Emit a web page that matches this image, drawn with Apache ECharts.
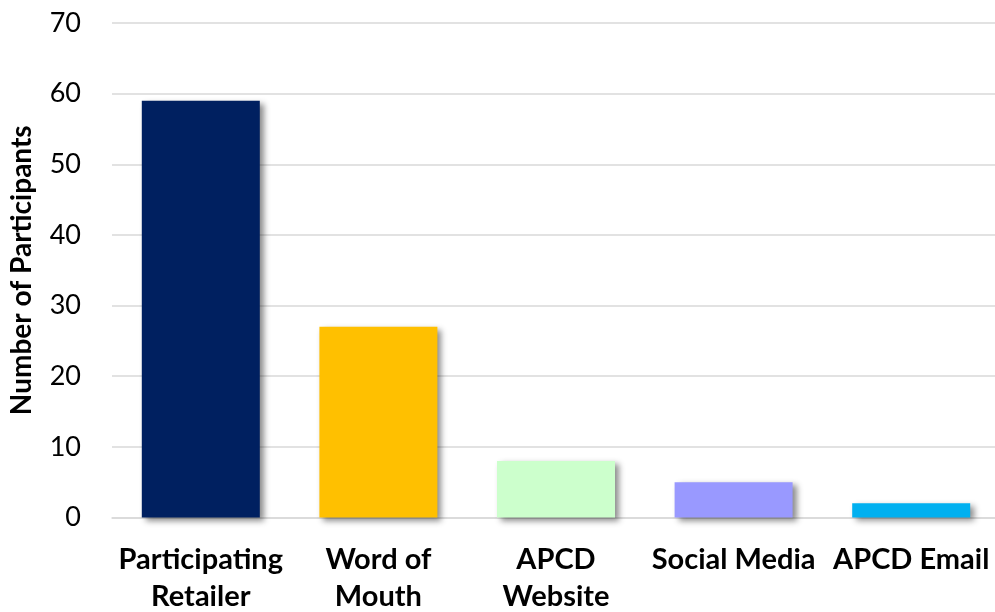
<!DOCTYPE html>
<html><head><meta charset="utf-8">
<script src="https://cdn.jsdelivr.net/npm/echarts@6/dist/echarts.min.js"></script>
<style>html,body{margin:0;padding:0;background:#fff}#c{width:995px;height:612px}</style>
</head><body><div id="c"></div>
<script>
const categories = ['Participating\nRetailer', 'Word of\nMouth', 'APCD\nWebsite', 'Social Media', 'APCD Email'];
const values = [59, 27, 8, 5, 2];
const colors = ['#002060', '#FFC000', '#CCFFCC', '#9999FF', '#00B0F0'];
const yTicks = { min: 0, max: 70, interval: 10 };

const chart = echarts.init(document.getElementById('c'));
chart.setOption({
  animation: false,
  grid: { left: 112, top: 23, width: 888, bottom: 94.5, containLabel: false, outerBoundsMode: 'none' },
  xAxis: {
    type: 'category', data: categories,
    axisLine: { show: true, lineStyle: { color: '#d9d9d9', width: 1.5 } },
    axisTick: { show: false },
    axisLabel: { interval: 0, fontFamily: 'Lato', fontWeight: 'bold', fontSize: 29, color: '#000', lineHeight: 37, margin: 24 }
  },
  yAxis: {
    type: 'value', min: yTicks.min, max: yTicks.max, interval: yTicks.interval,
    name: 'Number of Participants', nameLocation: 'middle', nameGap: 76,
    nameTextStyle: { fontFamily: 'Lato', fontWeight: 'bold', fontSize: 28, color: '#000' },
    axisLine: { show: false }, axisTick: { show: false },
    axisLabel: { fontFamily: 'Lato', fontSize: 27, color: '#000', margin: 31 },
    splitLine: { lineStyle: { color: '#d9d9d9', width: 1.5 } }
  },
  series: [{
    type: 'bar', barWidth: 118,
    data: values.map((v, i) => ({ value: v, itemStyle: { color: colors[i] } })),
    itemStyle: { shadowColor: 'rgba(0,0,0,0.45)', shadowBlur: 6, shadowOffsetX: 4, shadowOffsetY: 3 }
  }]
});
</script></body></html>
